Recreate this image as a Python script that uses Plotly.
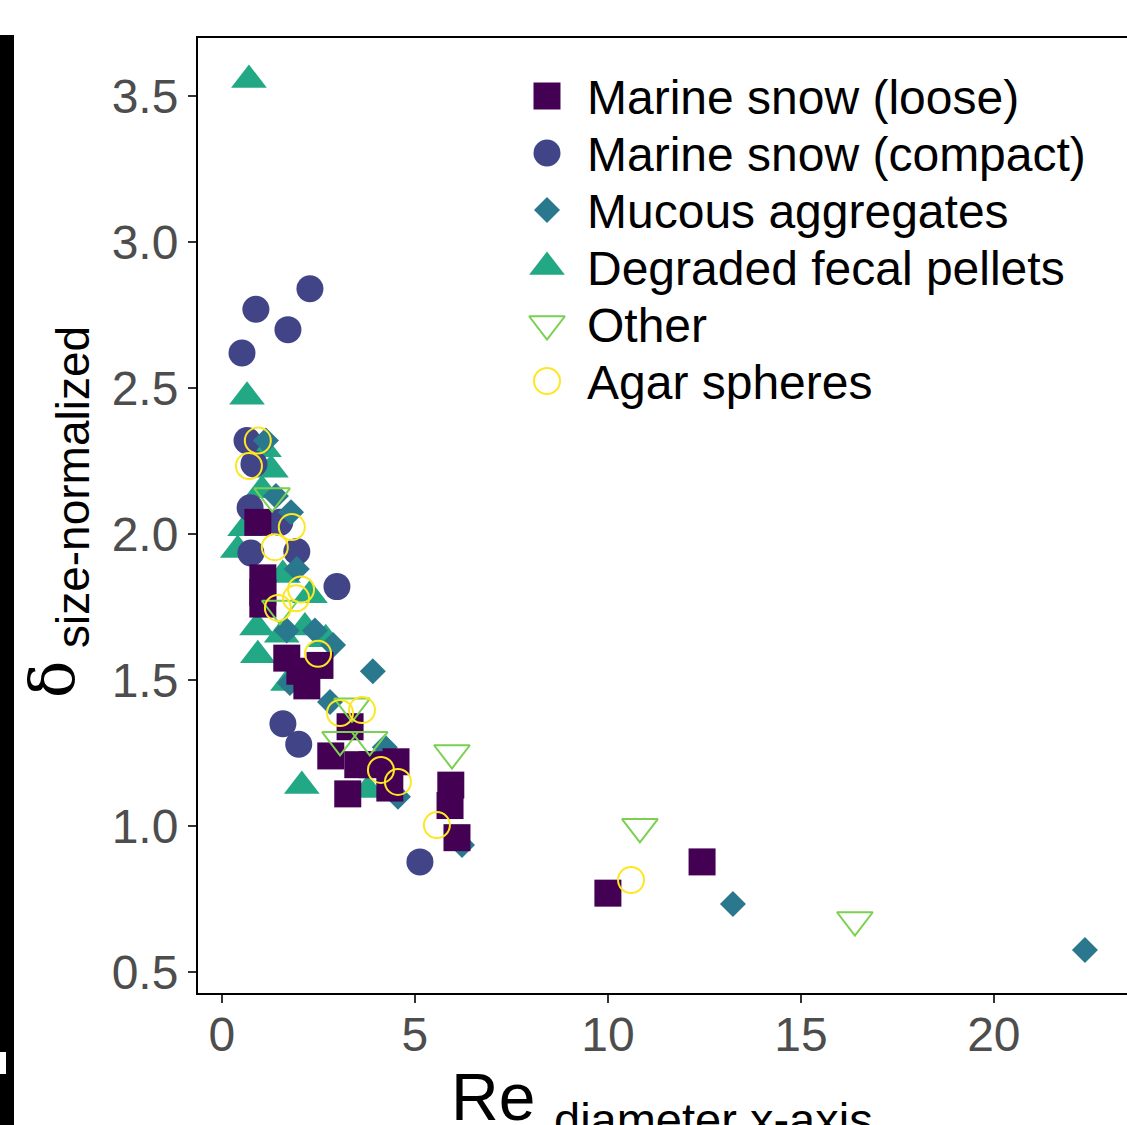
import plotly.graph_objects as go

# ---------------- data ----------------
categories = ["Marine snow (loose)", "Marine snow (compact)", "Mucous aggregates",
              "Degraded fecal pellets", "Other", "Agar spheres"]

loose_x = [0.93, 1.06, 1.06, 1.06, 1.68, 2.54, 2.20, 2.02, 3.32, 2.82, 3.52, 3.89,
           4.51, 4.35, 3.26, 5.93, 5.91, 6.09, 10.0, 12.44]
loose_y = [2.04, 1.85, 1.80, 1.76, 1.575, 1.55, 1.48, 1.53, 1.34, 1.24, 1.21, 1.21,
           1.22, 1.13, 1.11, 1.14, 1.07, 0.96, 0.77, 0.877]

compact_x = [0.52, 0.88, 1.71, 2.28, 0.65, 0.83, 0.73, 0.75, 1.50, 1.94, 2.98, 1.58, 1.99, 5.13]
compact_y = [2.62, 2.77, 2.70, 2.84, 2.32, 2.24, 2.09, 1.935, 2.04, 1.94, 1.82, 1.35, 1.28, 0.877]

mucous_x = [1.14, 1.40, 1.79, 1.94, 1.68, 2.41, 2.88, 3.91, 2.80, 1.76, 4.22, 4.56, 6.22, 13.24, 22.36]
mucous_y = [2.32, 2.13, 2.075, 1.88, 1.67, 1.67, 1.62, 1.53, 1.425, 1.49, 1.27, 1.10, 0.935, 0.733, 0.575]

fecal_x = [0.70, 0.65, 1.09, 1.27, 1.04, 0.60, 0.41, 0.91, 0.93, 1.55, 2.15, 2.69, 1.71,
           2.28, 2.07, 3.78, 1.58]
fecal_y = [3.555, 2.47, 2.29, 2.22, 2.15, 2.02, 1.945, 1.68, 1.585, 1.655, 1.68, 1.64, 1.49,
           1.79, 1.137, 1.123, 1.86]

other_x = [1.30, 1.50, 3.37, 3.06, 3.83, 5.96, 10.83, 16.40]
other_y = [2.13, 1.745, 1.41, 1.295, 1.295, 1.25, 0.997, 0.678]

agar_x = [0.93, 0.70, 1.81, 1.37, 1.92, 2.05, 1.45, 2.49, 3.06, 3.63, 4.12, 4.56, 5.57, 10.60]
agar_y = [2.32, 2.233, 2.024, 1.955, 1.78, 1.81, 1.747, 1.59, 1.387, 1.397, 1.192, 1.151, 1.003, 0.815]

x_ticks = [0, 5, 10, 15, 20]
y_ticks = [0.5, 1.0, 1.5, 2.0, 2.5, 3.0, 3.5]
y_ticktext = ["0.5", "1.0", "1.5", "2.0", "2.5", "3.0", "3.5"]

# ---------------- styles ----------------
colors = ["#440154", "#414487", "#2A788E", "#22A884", "#7AD151", "#FDE725"]
symbols = ["square", "circle", "diamond", "triangle-up", "triangle-down-open", "circle-open"]
sizes = [27, 27, 20, 31, 31, 26]
series = {
    0: (loose_x, loose_y),
    1: (compact_x, compact_y),
    2: (mucous_x, mucous_y),
    3: (fecal_x, fecal_y),
    4: (other_x, other_y),
    5: (agar_x, agar_y),
}
draw_order = [3, 1, 2, 0, 4, 5]

W, H = 1127, 1125
L, T, B, R = 198, 38, 132, 0
PW, PH = W - L - R, H - T - B


def px_to_paper_x(px):
    return (px - L) / PW


def px_to_paper_y(py):
    return (H - B - py) / PH


FONT = "Liberation Sans, Arial, sans-serif"

fig = go.Figure()
for i in draw_order:
    xs, ys = series[i]
    is_open = symbols[i].endswith("open")
    fig.add_trace(go.Scatter(
        x=xs, y=ys, mode="markers", name=categories[i], showlegend=False,
        marker=dict(symbol=symbols[i], size=sizes[i], color=colors[i],
                    line=dict(width=2 if is_open else 0, color=colors[i])),
        cliponaxis=False,
    ))

# ---------------- custom legend (auxiliary unit axes) ----------------
leg_marker_x = px_to_paper_x(547)
leg_text_x = px_to_paper_x(585)
for k in range(len(categories)):
    py = 96 + 57 * k
    yy = px_to_paper_y(py)
    is_open = symbols[k].endswith("open")
    fig.add_trace(go.Scatter(
        x=[leg_marker_x], y=[yy], xaxis="x2", yaxis="y2", mode="markers",
        showlegend=False, hoverinfo="skip",
        marker=dict(symbol=symbols[k], size=sizes[k], color=colors[k],
                    line=dict(width=2 if is_open else 0, color=colors[k])),
    ))
    fig.add_annotation(x=leg_text_x, y=yy - 0.002, xref="paper", yref="paper",
                       text=categories[k], showarrow=False, xanchor="left",
                       yanchor="middle", font=dict(family=FONT, size=48, color="black"))

# ---------------- axis titles ----------------
fig.add_annotation(x=px_to_paper_x(449), y=px_to_paper_y(1097), xref="paper", yref="paper",
                   text="Re", showarrow=False, xanchor="left", yanchor="middle",
                   font=dict(family=FONT, size=66, color="black"))
fig.add_annotation(x=px_to_paper_x(552), y=px_to_paper_y(1119), xref="paper", yref="paper",
                   text="diameter x-axis", showarrow=False, xanchor="left", yanchor="middle",
                   font=dict(family=FONT, size=47, color="black"))
fig.add_annotation(x=px_to_paper_x(52), y=px_to_paper_y(680), xref="paper", yref="paper",
                   text="δ", showarrow=False, textangle=-90, xanchor="center", yanchor="middle",
                   font=dict(family="DejaVu Serif, serif", size=62, color="black"))
fig.add_annotation(x=px_to_paper_x(73), y=px_to_paper_y(487), xref="paper", yref="paper",
                   text="size-normalized", showarrow=False, textangle=-90,
                   xanchor="center", yanchor="middle",
                   font=dict(family=FONT, size=46, color="black"))

# ---------------- black bar at the left edge (screenshot artefact) ----------------
fig.add_shape(type="rect", xref="paper", yref="paper",
              x0=px_to_paper_x(0), x1=px_to_paper_x(14),
              y0=px_to_paper_y(1125), y1=px_to_paper_y(35),
              fillcolor="black", line=dict(width=0), layer="above")
fig.add_shape(type="rect", xref="paper", yref="paper",
              x0=px_to_paper_x(0), x1=px_to_paper_x(6),
              y0=px_to_paper_y(1074), y1=px_to_paper_y(1052),
              fillcolor="white", line=dict(width=0), layer="above")

fig.update_layout(
    width=W, height=H,
    margin=dict(l=L, r=R, t=T, b=B, pad=0),
    paper_bgcolor="white", plot_bgcolor="white",
    showlegend=False,
    xaxis=dict(range=[-0.62, 23.45], tickvals=x_ticks, showgrid=False, zeroline=False,
               showline=True, linecolor="black", linewidth=2, mirror=True,
               ticks="outside", ticklen=8, tickwidth=2, tickcolor="#333333",
               ticklabelstandoff=-10,
               tickfont=dict(family=FONT, size=48, color="#4D4D4D")),
    yaxis=dict(range=[0.428, 3.699], tickvals=y_ticks, ticktext=y_ticktext,
               showgrid=False, zeroline=False,
               showline=True, linecolor="black", linewidth=2, mirror=False,
               ticks="outside", ticklen=8, tickwidth=2, tickcolor="#333333",
               tickfont=dict(family=FONT, size=48, color="#4D4D4D")),
    xaxis2=dict(domain=[0, 1], range=[0, 1], overlaying="x", anchor="y2", visible=False),
    yaxis2=dict(domain=[0, 1], range=[0, 1], overlaying="y", anchor="x2", visible=False),
)

fig.write_html("out.html")
